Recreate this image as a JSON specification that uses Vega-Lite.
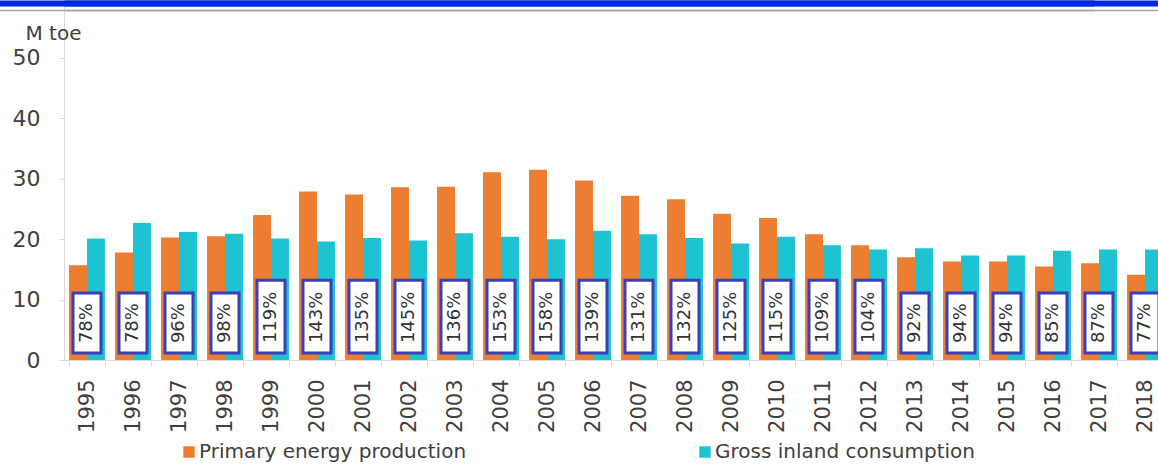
{
  "$schema": "https://vega.github.io/schema/vega-lite/v6.json",
  "width": 1158,
  "height": 360,
  "autosize": {"type": "none"},
  "padding": {"left": 0, "top": 0, "right": 0, "bottom": 108},
  "background": "white",
  "config": {
    "view": {"stroke": null},
    "font": "DejaVu Sans",
    "text": {"font": "DejaVu Sans"}
  },
  "datasets": {
    "energy": [
      {"year": "1995", "series": "Primary energy production", "mtoe": 15.7},
      {"year": "1995", "series": "Gross inland consumption", "mtoe": 20.1},
      {"year": "1996", "series": "Primary energy production", "mtoe": 17.8},
      {"year": "1996", "series": "Gross inland consumption", "mtoe": 22.7},
      {"year": "1997", "series": "Primary energy production", "mtoe": 20.3},
      {"year": "1997", "series": "Gross inland consumption", "mtoe": 21.2},
      {"year": "1998", "series": "Primary energy production", "mtoe": 20.5},
      {"year": "1998", "series": "Gross inland consumption", "mtoe": 20.9},
      {"year": "1999", "series": "Primary energy production", "mtoe": 24.0},
      {"year": "1999", "series": "Gross inland consumption", "mtoe": 20.1},
      {"year": "2000", "series": "Primary energy production", "mtoe": 27.9},
      {"year": "2000", "series": "Gross inland consumption", "mtoe": 19.6},
      {"year": "2001", "series": "Primary energy production", "mtoe": 27.4},
      {"year": "2001", "series": "Gross inland consumption", "mtoe": 20.2},
      {"year": "2002", "series": "Primary energy production", "mtoe": 28.6},
      {"year": "2002", "series": "Gross inland consumption", "mtoe": 19.8},
      {"year": "2003", "series": "Primary energy production", "mtoe": 28.7},
      {"year": "2003", "series": "Gross inland consumption", "mtoe": 21.0},
      {"year": "2004", "series": "Primary energy production", "mtoe": 31.1},
      {"year": "2004", "series": "Gross inland consumption", "mtoe": 20.4},
      {"year": "2005", "series": "Primary energy production", "mtoe": 31.5},
      {"year": "2005", "series": "Gross inland consumption", "mtoe": 20.0},
      {"year": "2006", "series": "Primary energy production", "mtoe": 29.7},
      {"year": "2006", "series": "Gross inland consumption", "mtoe": 21.4},
      {"year": "2007", "series": "Primary energy production", "mtoe": 27.2},
      {"year": "2007", "series": "Gross inland consumption", "mtoe": 20.8},
      {"year": "2008", "series": "Primary energy production", "mtoe": 26.6},
      {"year": "2008", "series": "Gross inland consumption", "mtoe": 20.2},
      {"year": "2009", "series": "Primary energy production", "mtoe": 24.2},
      {"year": "2009", "series": "Gross inland consumption", "mtoe": 19.3},
      {"year": "2010", "series": "Primary energy production", "mtoe": 23.5},
      {"year": "2010", "series": "Gross inland consumption", "mtoe": 20.4},
      {"year": "2011", "series": "Primary energy production", "mtoe": 20.8},
      {"year": "2011", "series": "Gross inland consumption", "mtoe": 19.0},
      {"year": "2012", "series": "Primary energy production", "mtoe": 19.0},
      {"year": "2012", "series": "Gross inland consumption", "mtoe": 18.3},
      {"year": "2013", "series": "Primary energy production", "mtoe": 17.0},
      {"year": "2013", "series": "Gross inland consumption", "mtoe": 18.5},
      {"year": "2014", "series": "Primary energy production", "mtoe": 16.3},
      {"year": "2014", "series": "Gross inland consumption", "mtoe": 17.3},
      {"year": "2015", "series": "Primary energy production", "mtoe": 16.3},
      {"year": "2015", "series": "Gross inland consumption", "mtoe": 17.3},
      {"year": "2016", "series": "Primary energy production", "mtoe": 15.5},
      {"year": "2016", "series": "Gross inland consumption", "mtoe": 18.1},
      {"year": "2017", "series": "Primary energy production", "mtoe": 16.0},
      {"year": "2017", "series": "Gross inland consumption", "mtoe": 18.3},
      {"year": "2018", "series": "Primary energy production", "mtoe": 14.1},
      {"year": "2018", "series": "Gross inland consumption", "mtoe": 18.3}
    ],
    "ratios": [
      {"year": "1995", "ratio": "78%"},
      {"year": "1996", "ratio": "78%"},
      {"year": "1997", "ratio": "96%"},
      {"year": "1998", "ratio": "98%"},
      {"year": "1999", "ratio": "119%"},
      {"year": "2000", "ratio": "143%"},
      {"year": "2001", "ratio": "135%"},
      {"year": "2002", "ratio": "145%"},
      {"year": "2003", "ratio": "136%"},
      {"year": "2004", "ratio": "153%"},
      {"year": "2005", "ratio": "158%"},
      {"year": "2006", "ratio": "139%"},
      {"year": "2007", "ratio": "131%"},
      {"year": "2008", "ratio": "132%"},
      {"year": "2009", "ratio": "125%"},
      {"year": "2010", "ratio": "115%"},
      {"year": "2011", "ratio": "109%"},
      {"year": "2012", "ratio": "104%"},
      {"year": "2013", "ratio": "92%"},
      {"year": "2014", "ratio": "94%"},
      {"year": "2015", "ratio": "94%"},
      {"year": "2016", "ratio": "85%"},
      {"year": "2017", "ratio": "87%"},
      {"year": "2018", "ratio": "77%"}
    ]
  },
  "layer": [
    {
      "data": {"name": "energy"},
      "mark": {"type": "bar"},
      "encoding": {
        "x": {
          "field": "year",
          "type": "nominal",
          "scale": {"range": [64, 1168], "paddingInner": 0.22, "paddingOuter": 0.11},
          "axis": {
            "title": null,
            "labelAngle": 270,
            "labelAlign": "right",
            "labelBaseline": "middle",
            "labelFontSize": 21,
            "labelColor": "#404040",
            "labelPadding": 13,
            "labelOverlap": false,
            "tickBand": "extent",
            "tickColor": "#d9d9d9",
            "tickSize": 6,
            "domainColor": "#d9d9d9",
            "grid": false
          }
        },
        "xOffset": {
          "field": "series",
          "type": "nominal",
          "sort": ["Primary energy production", "Gross inland consumption"],
          "scale": {"paddingInner": 0, "paddingOuter": 0}
        },
        "y": {
          "field": "mtoe",
          "type": "quantitative",
          "scale": {"domain": [0, 59.6], "nice": false},
          "axis": {
            "values": [0, 10, 20, 30, 40, 50, 58, 59.1],
            "labelExpr": "datum.value > 50 ? '' : datum.label",
            "offset": -64,
            "grid": true,
            "gridOpacity": {"condition": {"test": "datum.value > 50", "value": 1}, "value": 0},
            "gridColor": {"condition": {"test": "datum.value > 59", "value": "#0028e0"}, "value": "#a6a6a6"},
            "gridWidth": {"condition": {"test": "datum.value > 59", "value": 6}, "value": 1.5},
            "domainColor": "#d9d9d9",
            "tickColor": "#d9d9d9",
            "tickOpacity": {"condition": {"test": "datum.value > 50", "value": 0}, "value": 1},
            "tickSize": 5,
            "labelPadding": 19,
            "labelFontSize": 22,
            "labelColor": "#404040",
            "title": "M toe",
            "titleAngle": 0,
            "titleAlign": "left",
            "titleBaseline": "middle",
            "titleX": -39,
            "titleY": 33,
            "titleFontSize": 20,
            "titleFontWeight": "normal",
            "titleColor": "#404040"
          }
        },
        "color": {
          "field": "series",
          "type": "nominal",
          "sort": ["Primary energy production", "Gross inland consumption"],
          "scale": {
            "domain": ["Primary energy production", "Gross inland consumption"],
            "range": ["#ED7D31", "#1DC3D1"]
          },
          "legend": {
            "orient": "none",
            "legendX": 179,
            "legendY": 442,
            "direction": "horizontal",
            "title": null,
            "symbolType": "square",
            "symbolSize": 130,
            "symbolStrokeWidth": 0,
            "symbolOpacity": 1,
            "labelFontSize": 20,
            "labelColor": "#404040",
            "labelOffset": 0,
            "labelLimit": 400,
            "columnPadding": 228
          }
        }
      }
    },
    {
      "data": {"name": "ratios"},
      "transform": [{"filter": "length(datum.ratio) == 3"}],
      "mark": {"type": "bar", "fill": "white", "stroke": "#3a40b6", "strokeWidth": 3, "width": {"band": 0.78}},
      "encoding": {
        "x": {"field": "year", "type": "nominal"},
        "y": {"datum": 1.16, "type": "quantitative", "axis": null},
        "y2": {"datum": 11.1}
      }
    },
    {
      "data": {"name": "ratios"},
      "transform": [{"filter": "length(datum.ratio) == 4"}],
      "mark": {"type": "bar", "fill": "white", "stroke": "#3a40b6", "strokeWidth": 3, "width": {"band": 0.78}},
      "encoding": {
        "x": {"field": "year", "type": "nominal"},
        "y": {"datum": 1.16, "type": "quantitative", "axis": null},
        "y2": {"datum": 13.2}
      }
    },
    {
      "data": {"name": "ratios"},
      "mark": {"type": "text", "angle": 270, "align": "left", "baseline": "middle", "fontSize": 18, "color": "#333333"},
      "encoding": {
        "x": {"field": "year", "type": "nominal"},
        "y": {
          "datum": 2.8,
          "type": "quantitative",
          "axis": {
            "orient": "right",
            "offset": 0,
            "values": [59.1, 58.0],
            "labels": false,
            "ticks": false,
            "domain": false,
            "title": null,
            "grid": true,
            "gridOpacity": 1,
            "gridColor": {"condition": {"test": "datum.value > 59", "value": "#0028e0"}, "value": "#a6a6a6"},
            "gridWidth": {"condition": {"test": "datum.value > 59", "value": 6}, "value": 1.5},
            "zindex": 1
          }
        },
        "text": {"field": "ratio"}
      }
    }
  ],
  "resolve": {"axis": {"y": "independent"}}
}
